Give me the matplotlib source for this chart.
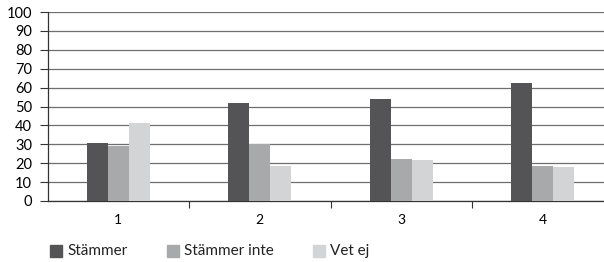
import numpy as np
import matplotlib.pyplot as plt
from matplotlib.patches import Rectangle

categories = ['1', '2', '3', '4']
series = ['Stämmer', 'Stämmer inte', 'Vet ej']
stammer = [30.5, 52, 54, 62.5]
stammer_inte = [29, 30, 22, 18.5]
vet_ej = [41.5, 18.5, 21.5, 18]
colors = ['#545456', '#a8a9ab', '#d3d4d6']

plt.rcParams['font.family'] = ['Lato', 'DejaVu Sans']

W, H = 604, 262
fig = plt.figure(figsize=(W / 100, H / 100), dpi=100)
# the chart is cut at the right edge, so the axes run past the figure
ax = fig.add_axes([47.5 / W, 61 / H, 566 / W, 189 / H])

x = np.arange(len(categories))
w = 0.148
for i, vals in enumerate([stammer, stammer_inte, vet_ej]):
    ax.bar(x + (i - 1) * w, vals, w, color=colors[i], zorder=3)

ax.set_xlim(-0.5, len(categories) - 0.5)
ax.set_ylim(0, 100)
ax.set_yticks(range(0, 101, 10))
ax.yaxis.grid(True, color='#6e6e6e', linewidth=0.9, zorder=0)
ax.set_axisbelow(True)

ax.set_xticks(x)
ax.set_xticklabels(categories)
ax.set_xticks(np.arange(0.5, len(categories) - 0.5, 1), minor=True)
ax.tick_params(axis='x', which='major', length=0, pad=9, labelsize=10)
ax.tick_params(axis='x', which='minor', length=5, width=0.8, color='#333333')
ax.tick_params(axis='y', length=6, width=0.8, color='#333333', pad=5, labelsize=10.5)

for s in ['top', 'right']:
    ax.spines[s].set_visible(False)
for s in ['left', 'bottom']:
    ax.spines[s].set_color('#333333')
    ax.spines[s].set_linewidth(0.9)

# legend drawn by hand to match the uneven spacing of the original
leg_x = [50, 167, 313]
for lx, name, c in zip(leg_x, series, colors):
    fig.add_artist(Rectangle((lx / W, (H - 257) / H), 12 / W, 12 / H,
                             transform=fig.transFigure, color=c))
    fig.text((lx + 17) / W, (H - 251) / H, name, fontsize=11,
             va='center', ha='left', color='#222222')

fig.savefig('out.png', dpi=100)
